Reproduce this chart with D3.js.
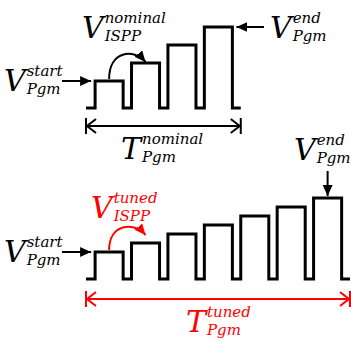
<!DOCTYPE html>
<html>
<head>
<meta charset="utf-8">
<script src="https://cdn.jsdelivr.net/npm/d3@7"></script>
<style>
  html, body { margin: 0; padding: 0; background: #fff; }
  svg { display: block; }
  text { font-family: "DejaVu Serif", serif; font-style: italic; }
</style>
</head>
<body>
<svg id="fig" width="351" height="341"></svg>
<script>
// Program voltage of each ISPP pulse (arbitrary units), nominal vs tuned step
const nominalPulses = [3, 5, 7, 9];
const tunedPulses = [3, 4, 5, 6, 7, 8, 9];
const pulseLead = 0.25;   // idle time before each pulse (in pulse periods)
const pulseWidth = 0.77;  // high time of each pulse (in pulse periods)

const RED = "#ff0000";
const svg = d3.select("#fig");

// Shared time axis (pulse periods) and one voltage axis per waveform
const x = d3.scaleLinear().domain([0, 7.25]).range([86, 350]);
const yTop = d3.scaleLinear().domain([0, 9]).range([108, 27]);
const yBot = d3.scaleLinear().domain([0, 9]).range([279, 198]);

const defs = svg.append("defs");
function headMarker(id, color, len, wid) {
  defs.append("marker")
    .attr("id", id)
    .attr("markerUnits", "userSpaceOnUse")
    .attr("viewBox", `0 ${-wid / 2} ${len} ${wid}`)
    .attr("refX", len).attr("refY", 0)
    .attr("markerWidth", len).attr("markerHeight", wid)
    .attr("orient", "auto")
    .append("path")
    .attr("d", `M0,${-wid / 2}L${len},0L0,${wid / 2}Z`)
    .attr("fill", color);
}
headMarker("headK", "#000", 11, 10);
headMarker("headR", RED, 11, 10);

// Staircase of program pulses
function waveform(values, y) {
  const pts = [[x(0), y(0)]];
  values.forEach((v, i) => {
    const t0 = i + pulseLead, t1 = t0 + pulseWidth;
    pts.push([x(t0), y(0)], [x(t0), y(v)], [x(t1), y(v)], [x(t1), y(0)]);
  });
  pts.push([x(values.length + pulseLead), y(0)]);
  svg.append("path")
    .attr("d", d3.line()(pts))
    .attr("fill", "none")
    .attr("stroke", "#000")
    .attr("stroke-width", 3)
    .attr("stroke-linejoin", "miter");
}
waveform(nominalPulses, yTop);
waveform(tunedPulses, yBot);

const mid = i => x(i + pulseLead + pulseWidth / 2);

// Math-style label: big letter with superscript and subscript
function mathLabel(px, py, main, sup, sub, color) {
  const g = svg.append("g").attr("fill", color || "#000");
  const m = g.append("text").attr("x", px).attr("y", py)
    .attr("font-size", 30).text(main);
  const w = m.node().getComputedTextLength();
  g.append("text").attr("x", px + w + 1).attr("y", py - 15)
    .attr("font-size", 15).text(sup);
  g.append("text").attr("x", px + w + 1).attr("y", py + 3)
    .attr("font-size", 15).text(sub);
}

function arrowLine(x1, y1, x2, y2, color, marker) {
  svg.append("line")
    .attr("x1", x1).attr("y1", y1).attr("x2", x2).attr("y2", y2)
    .attr("stroke", color).attr("stroke-width", 2)
    .attr("marker-end", `url(#${marker})`);
}

// Start-voltage pointers
arrowLine(62, yTop(nominalPulses[0]), x(pulseLead) - 4, yTop(nominalPulses[0]), "#000", "headK");
arrowLine(62, yBot(tunedPulses[0]), x(pulseLead) - 4, yBot(tunedPulses[0]), "#000", "headK");
mathLabel(4, yTop(nominalPulses[0]) + 10, "V", "start", "Pgm");
mathLabel(4, yBot(tunedPulses[0]) + 10, "V", "start", "Pgm");

// Step-size curved arrows
function stepArc(y, v0, v1, color, marker, gap, lift) {
  const sx = mid(0), sy = y(v0) - 2;
  const ex = mid(1), ey = y(v1) - gap;
  svg.append("path")
    .attr("d", `M${sx},${sy}C${sx},${sy - lift} ${ex - 12},${ey - 14} ${ex},${ey}`)
    .attr("fill", "none").attr("stroke", color).attr("stroke-width", 2)
    .attr("marker-end", `url(#${marker})`);
}
stepArc(yTop, nominalPulses[0], nominalPulses[1], "#000", "headK", 1, 28);
stepArc(yBot, tunedPulses[0], tunedPulses[1], RED, "headR", 8, 26);
mathLabel(82, 38, "V", "nominal", "ISPP");
mathLabel(91, 218, "V", "tuned", "ISPP", RED);

// End-voltage pointers
const nLast = nominalPulses.length - 1;
arrowLine(264, yTop(nominalPulses[nLast]), x(nLast + pulseLead + pulseWidth) + 4, yTop(nominalPulses[nLast]), "#000", "headK");
mathLabel(270, 38, "V", "end", "Pgm");
const tLast = tunedPulses.length - 1;
arrowLine(mid(tLast), 171, mid(tLast), yBot(tunedPulses[tLast]) - 2, "#000", "headK");
mathLabel(294, 160, "V", "end", "Pgm");

// Program-time spans
function span(y, t1, color) {
  const g = svg.append("g").attr("stroke", color).attr("stroke-width", 2).attr("fill", "none");
  const a = x(0), b = x(t1);
  g.append("line").attr("x1", a).attr("x2", b).attr("y1", y).attr("y2", y);
  [a, b].forEach(p => g.append("line").attr("x1", p).attr("x2", p).attr("y1", y - 8).attr("y2", y + 8));
  g.append("path").attr("d", `M${a + 10},${y - 7}L${a + 1},${y}L${a + 10},${y + 7}`);
  g.append("path").attr("d", `M${b - 10},${y - 7}L${b - 1},${y}L${b - 10},${y + 7}`);
}
span(126, nominalPulses.length + pulseLead, "#000");
span(299, tunedPulses.length + pulseLead, RED);
mathLabel(121, 159, "T", "nominal", "Pgm");
mathLabel(186, 332, "T", "tuned", "Pgm", RED);
</script>
</body>
</html>
